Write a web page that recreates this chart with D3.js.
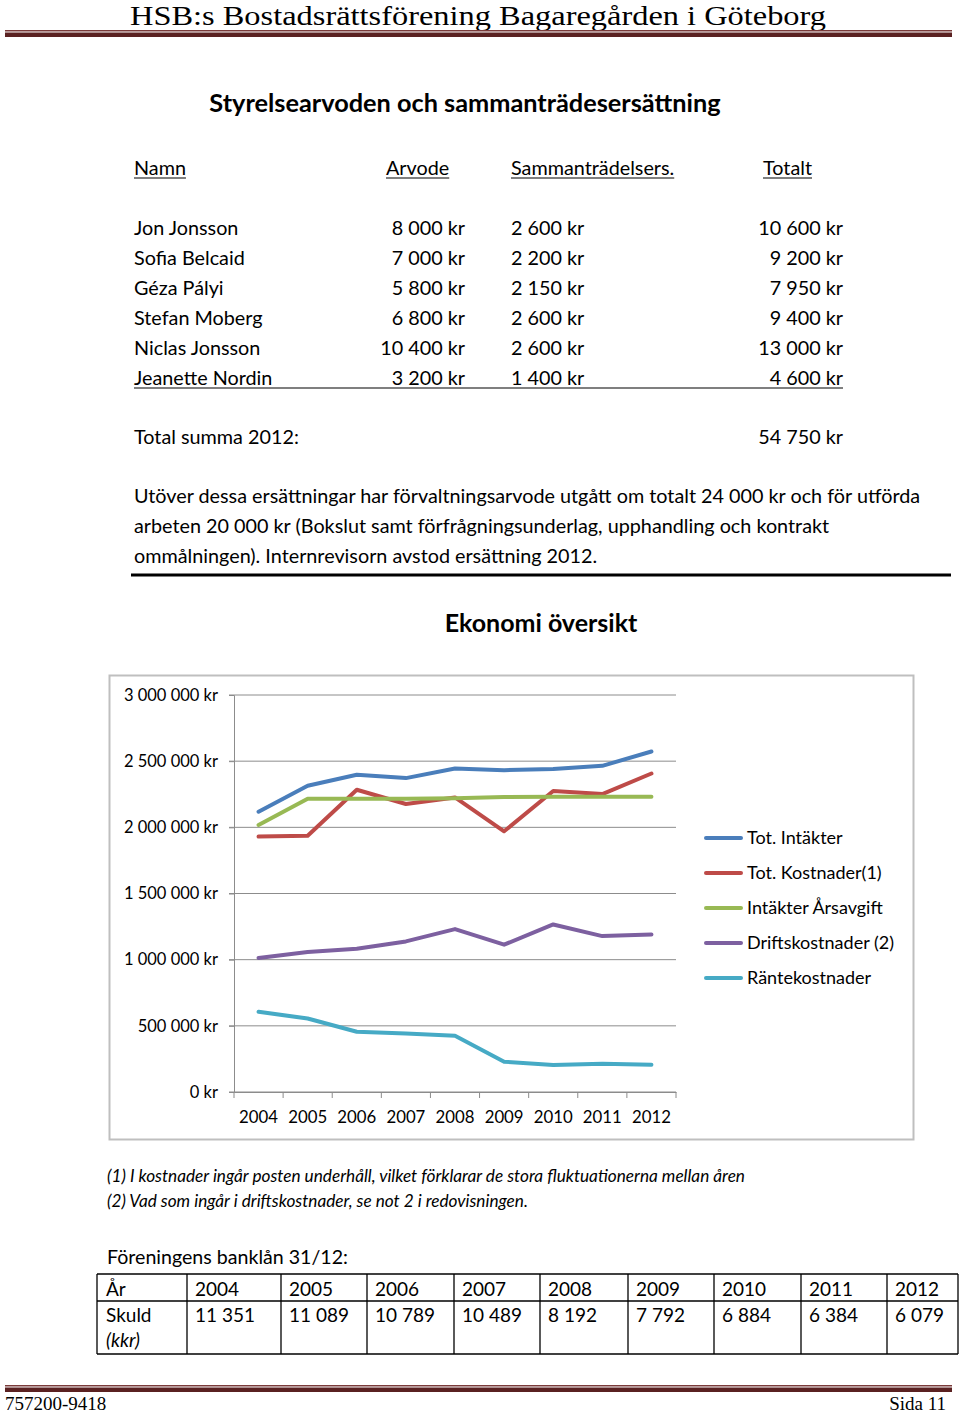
<!DOCTYPE html>
<html><head><meta charset="utf-8">
<script src="https://cdn.jsdelivr.net/npm/d3@7"></script>
<style>
html,body{margin:0;padding:0;background:#fff;}
svg{display:block;}
text{font-family:Lato,"Open Sans",sans-serif;fill:#000;}
</style></head>
<body>
<script>
// ---------- data ----------
const names = ["Jon Jonsson","Sofia Belcaid","Géza Pályi","Stefan Moberg","Niclas Jonsson","Jeanette Nordin"];
const arvode = ["8 000 kr","7 000 kr","5 800 kr","6 800 kr","10 400 kr","3 200 kr"];
const sammantr = ["2 600 kr","2 200 kr","2 150 kr","2 600 kr","2 600 kr","1 400 kr"];
const totalt = ["10 600 kr","9 200 kr","7 950 kr","9 400 kr","13 000 kr","4 600 kr"];
const headers = ["Namn","Arvode","Sammanträdelsers.","Totalt"];

const years = ["2004","2005","2006","2007","2008","2009","2010","2011","2012"];
const totIntakter   = [2118000,2314000,2397000,2372000,2445000,2432000,2440000,2465000,2573000];
const totKostnader  = [1930000,1937000,2284000,2176000,2226000,1970000,2274000,2251000,2407000];
const intArsavgift  = [2018000,2216000,2216000,2216000,2220000,2229000,2231000,2231000,2231000];
const driftskostn   = [1013000,1058000,1083000,1138000,1231000,1113000,1266000,1178000,1191000];
const rantekostn    = [606000,555000,455000,442000,425000,229000,204000,214000,206000];
const seriesNames = ["Tot. Intäkter","Tot. Kostnader(1)","Intäkter Årsavgift","Driftskostnader (2)","Räntekostnader"];
const seriesColors = ["#4a7ebb","#be4b48","#98b954","#7d60a0","#46aac5"];
const yTicks = [0,500000,1000000,1500000,2000000,2500000,3000000];

const loanYears = ["2004","2005","2006","2007","2008","2009","2010","2011","2012"];
const loanDebt = ["11 351","11 089","10 789","10 489","8 192","7 792","6 884","6 384","6 079"];

// ---------- page ----------
const W = 960, H = 1415;
const svg = d3.select("body").append("svg").attr("width",W).attr("height",H);

// header
svg.append("text").attr("x",478).attr("y",25).attr("text-anchor","middle")
  .attr("textLength",696).attr("lengthAdjust","spacingAndGlyphs")
  .style("font-family","'Liberation Serif','DejaVu Serif',serif").style("font-size","27px")
  .text("HSB:s Bostadsrättsförening Bagaregården i Göteborg");
function doubleRule(y){
  svg.append("rect").attr("x",5).attr("y",y).attr("width",947).attr("height",1.5).attr("fill","#7a3b3a");
  svg.append("rect").attr("x",5).attr("y",y+2.5).attr("width",947).attr("height",4.5).attr("fill","#5a2121");
}
doubleRule(30);
doubleRule(1385);
svg.append("text").attr("x",5).attr("y",1410)
  .style("font-family","'Liberation Serif','DejaVu Serif',serif").style("font-size","19px").text("757200-9418");
svg.append("text").attr("x",946).attr("y",1410).attr("text-anchor","end")
  .style("font-family","'Liberation Serif','DejaVu Serif',serif").style("font-size","19px").text("Sida 11");

// title
svg.append("text").attr("x",465).attr("y",112).attr("text-anchor","middle")
  .style("font-size","25.3px").style("font-weight","bold").text("Styrelsearvoden och sammanträdesersättning");

// table 1
const fs = "19.8px";
const hx = [134,386,511,763];
headers.forEach((h,i)=>{
  const t = svg.append("text").attr("x",hx[i]).attr("y",175).style("font-size",fs).text(h);
  const w = t.node().getComputedTextLength();
  svg.append("line").attr("x1",hx[i]).attr("x2",hx[i]+w).attr("y1",178).attr("y2",178)
    .attr("stroke","#000").attr("stroke-width",1.2);
});
const rowY = d3.range(names.length).map(i=>235+30*i);
names.forEach((n,i)=>{
  svg.append("text").attr("x",134).attr("y",rowY[i]).style("font-size",fs).text(n);
  svg.append("text").attr("x",465).attr("y",rowY[i]).attr("text-anchor","end").style("font-size",fs).text(arvode[i]);
  svg.append("text").attr("x",511).attr("y",rowY[i]).style("font-size",fs).text(sammantr[i]);
  svg.append("text").attr("x",843).attr("y",rowY[i]).attr("text-anchor","end").style("font-size",fs).text(totalt[i]);
});
svg.append("line").attr("x1",134).attr("x2",843).attr("y1",rowY[5]+3).attr("y2",rowY[5]+3)
  .attr("stroke","#000").attr("stroke-width",1.2);
svg.append("text").attr("x",134).attr("y",444).style("font-size",fs).text("Total summa 2012:");
svg.append("text").attr("x",843).attr("y",444).attr("text-anchor","end").style("font-size",fs).text("54 750 kr");

const para = ["Utöver dessa ersättningar har förvaltningsarvode utgått om totalt 24 000 kr och för utförda",
  "arbeten 20 000 kr (Bokslut samt förfrågningsunderlag, upphandling och kontrakt",
  "ommålningen). Internrevisorn avstod ersättning 2012."];
para.forEach((p,i)=>svg.append("text").attr("x",134).attr("y",503+30*i).style("font-size",fs).text(p));
svg.append("rect").attr("x",131).attr("y",573.5).attr("width",820).attr("height",3).attr("fill","#000");

// chart title
svg.append("text").attr("x",541).attr("y",632).attr("text-anchor","middle")
  .style("font-size","25px").style("font-weight","bold").text("Ekonomi översikt");

// chart box
svg.append("rect").attr("x",109.5).attr("y",675.5).attr("width",804).attr("height",464)
  .attr("fill","#fff").attr("stroke","#bfbfbf").attr("stroke-width",2);

const x = d3.scaleBand().domain(years).range([234,676]);
const y = d3.scaleLinear().domain([0,3000000]).range([1092,695]);
const fmt = v => (v===0 ? "0" : d3.format(",")(v).replace(/,/g," ")) + " kr";

const g = svg.append("g");
// gridlines
g.selectAll("line.grid").data(yTicks).join("line")
  .attr("x1",229).attr("x2",676).attr("y1",d=>y(d)).attr("y2",d=>y(d))
  .attr("stroke","#8c8c8c").attr("stroke-width",1);
// y axis
const yAxis = g.append("g").attr("transform","translate(234,0)")
  .call(d3.axisLeft(y).tickValues(yTicks).tickFormat(fmt).tickSize(5).tickPadding(11));
yAxis.select(".domain").attr("stroke","#8c8c8c");
yAxis.selectAll(".tick line").attr("stroke","#8c8c8c");
yAxis.selectAll("text").style("font-family","Lato,sans-serif").style("font-size","16.5px").attr("fill","#000");
// x axis
const xAxis = g.append("g").attr("transform","translate(0,1092)")
  .call(d3.axisBottom(x).tickSize(0).tickPadding(19));
xAxis.select(".domain").attr("stroke","#8c8c8c");
xAxis.selectAll("text").style("font-family","Lato,sans-serif").style("font-size","16.8px").attr("fill","#000");
const bounds = years.map(d=>x(d)).concat([x.range()[1]]);
g.selectAll("line.xt").data(bounds).join("line")
  .attr("x1",d=>d).attr("x2",d=>d).attr("y1",1092).attr("y2",1098)
  .attr("stroke","#8c8c8c");

const allSeries = [totIntakter,totKostnader,intArsavgift,driftskostn,rantekostn];
const line = d3.line().x((d,i)=>x(years[i])+x.bandwidth()/2).y(d=>y(d));
allSeries.forEach((s,k)=>{
  g.append("path").datum(s).attr("d",line).attr("fill","none")
    .attr("stroke",seriesColors[k]).attr("stroke-width",4).attr("stroke-linejoin","round").attr("stroke-linecap","round");
});

// legend
seriesNames.forEach((n,k)=>{
  const ly = 837+35*k;
  svg.append("line").attr("x1",706).attr("x2",741).attr("y1",ly+1).attr("y2",ly+1)
    .attr("stroke",seriesColors[k]).attr("stroke-width",4).attr("stroke-linecap","round");
  svg.append("text").attr("x",747).attr("y",ly+6.5).style("font-size","18px").text(n);
});

// footnotes
svg.append("text").attr("x",107).attr("y",1182).style("font-size","16.5px").style("font-style","italic")
  .attr("textLength",638).attr("lengthAdjust","spacingAndGlyphs")
  .text("(1) I kostnader ingår posten underhåll, vilket förklarar de stora fluktuationerna mellan åren");
svg.append("text").attr("x",107).attr("y",1207).style("font-size","16.5px").style("font-style","italic")
  .attr("textLength",421).attr("lengthAdjust","spacingAndGlyphs")
  .text("(2) Vad som ingår i driftskostnader, se not 2 i redovisningen.");

// loan table
const fs2 = "19px";
svg.append("text").attr("x",107).attr("y",1264).style("font-size","19.6px").text("Föreningens banklån 31/12:");
const colB = [97,187,281,367,454,540,628,714,801,887,958];
const tTop = 1274, tMid = 1301, tBot = 1354;
const tg = svg.append("g").attr("stroke","#000").attr("stroke-width",1.3);
[tTop,tMid,tBot].forEach(yy=>tg.append("line").attr("x1",colB[0]).attr("x2",colB[10]).attr("y1",yy).attr("y2",yy));
colB.forEach(xx=>tg.append("line").attr("x1",xx).attr("x2",xx).attr("y1",tTop).attr("y2",tBot));
svg.append("text").attr("x",106).attr("y",1296).style("font-size",fs2).text("År");
svg.append("text").attr("x",106).attr("y",1322).style("font-size",fs2).text("Skuld");
svg.append("text").attr("x",106).attr("y",1347).style("font-size",fs2).style("font-style","italic").text("(kkr)");
loanYears.forEach((yr,i)=>{
  svg.append("text").attr("x",colB[i+1]+8).attr("y",1296).style("font-size",fs2).text(yr);
  svg.append("text").attr("x",colB[i+1]+8).attr("y",1322).style("font-size",fs2).text(loanDebt[i]);
});
</script>
</body></html>
